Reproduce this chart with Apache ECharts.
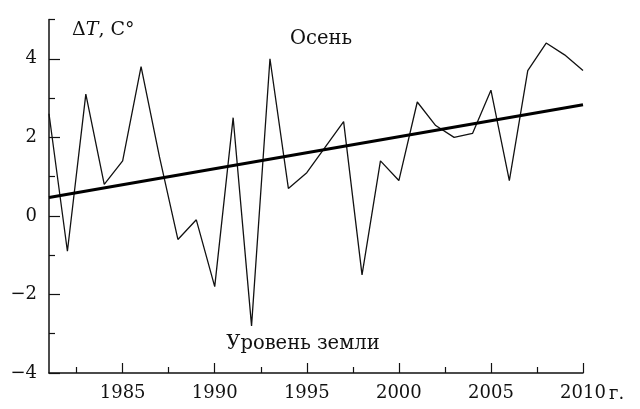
<!DOCTYPE html>
<html>
<head>
<meta charset="utf-8">
<script src="https://cdn.jsdelivr.net/npm/echarts@6/dist/echarts.min.js"></script>
<style>
  html, body { margin: 0; padding: 0; background: #fff; }
  #chart { width: 640px; height: 409px; }
</style>
</head>
<body>
<div id="chart"></div>
<script>
// Autumn surface temperature anomaly, 1981–2010
const years = [1981, 1982, 1983, 1984, 1985, 1986, 1987, 1988, 1989, 1990,
               1991, 1992, 1993, 1994, 1995, 1996, 1997, 1998, 1999, 2000,
               2001, 2002, 2003, 2004, 2005, 2006, 2007, 2008, 2009, 2010];
const deltaT = [2.6, -0.9, 3.1, 0.8, 1.4, 3.8, 1.5, -0.6, -0.1, -1.8,
                2.5, -2.8, 4.0, 0.7, 1.1, 1.75, 2.4, -1.5, 1.4, 0.9,
                2.9, 2.3, 2.0, 2.1, 3.2, 0.9, 3.7, 4.4, 4.1, 3.7];
// Linear trend, end points
const trendYears = [1981, 2010];
const trendValues = [0.47, 2.83];

const xMajorTicks = [1985, 1990, 1995, 2000, 2005, 2010];
const xMinorTicks = [1982.5, 1987.5, 1992.5, 1997.5, 2002.5, 2007.5];
const yMajorTicks = [-4, -2, 0, 2, 4];
const yMinorTicks = [-3, -1, 1, 3, 5];

const FONT = '"DejaVu Serif", "Liberation Serif", serif';
const INK = '#111';

const series = years.map((y, i) => [y, deltaT[i]]);
const trend = trendYears.map((y, i) => [y, trendValues[i]]);

const fmtNum = v => (v < 0 ? '\u2212' + Math.abs(v) : String(v));

const chart = echarts.init(document.getElementById('chart'), null, { renderer: 'canvas' });
chart.setOption({
  animation: false,
  backgroundColor: '#fff',
  grid: { left: 49, right: 57, top: 19.5, bottom: 36 },
  xAxis: [
    {
      type: 'value', min: 1981, max: 2010,
      splitLine: { show: false },
      axisLine: { show: true, onZero: false, lineStyle: { color: INK, width: 1.5 } },
      axisTick: { show: true, inside: true, length: 10, customValues: xMajorTicks,
                  lineStyle: { color: INK, width: 1.2 } },
      axisLabel: { show: true, customValues: xMajorTicks, margin: 11,
                   fontFamily: FONT, fontSize: 18, color: INK,
                   formatter: v => String(v) }
    },
    {
      type: 'value', min: 1981, max: 2010, position: 'bottom',
      splitLine: { show: false },
      axisLine: { show: false, onZero: false },
      axisTick: { show: true, inside: true, length: 6, customValues: xMinorTicks,
                  lineStyle: { color: INK, width: 1.2 } },
      axisLabel: { show: false }
    }
  ],
  yAxis: [
    {
      type: 'value', min: -4, max: 5,
      splitLine: { show: false },
      axisLine: { show: true, onZero: false, lineStyle: { color: INK, width: 1.5 } },
      axisTick: { show: true, inside: true, length: 11, customValues: yMajorTicks,
                  lineStyle: { color: INK, width: 1.2 } },
      axisLabel: { show: true, customValues: yMajorTicks, margin: 12,
                   fontFamily: FONT, fontSize: 18, color: INK, formatter: fmtNum }
    },
    {
      type: 'value', min: -4, max: 5, position: 'left',
      splitLine: { show: false },
      axisLine: { show: false, onZero: false },
      axisTick: { show: true, inside: true, length: 6, customValues: yMinorTicks,
                  lineStyle: { color: INK, width: 1.2 } },
      axisLabel: { show: false }
    }
  ],
  series: [
    {
      type: 'line', data: series, xAxisIndex: 0, yAxisIndex: 0,
      symbol: 'none', lineStyle: { color: INK, width: 1.3 }, z: 3
    },
    {
      type: 'line', data: trend, xAxisIndex: 0, yAxisIndex: 0,
      symbol: 'none', lineStyle: { color: '#000', width: 3 }, z: 4
    }
  ],
  graphic: [
    {
      type: 'text', left: 72, top: 21,
      style: {
        text: '{n|\u0394}{i|T}{n|, C\u00B0}',
        rich: {
          n: { fontFamily: FONT, fontSize: 19, fill: INK },
          i: { fontFamily: FONT, fontSize: 19, fontStyle: 'italic', fill: INK }
        }
      }
    },
    {
      type: 'text', x: 321, y: 39,
      style: { text: 'Осень', fontFamily: FONT, fontSize: 19.5, fill: INK,
               align: 'center', verticalAlign: 'middle' }
    },
    {
      type: 'text', x: 303, y: 344,
      style: { text: 'Уровень земли', fontFamily: FONT, fontSize: 19.5, fill: INK,
               align: 'center', verticalAlign: 'middle' }
    },
    {
      type: 'text', x: 609, y: 394,
      style: { text: 'г.', fontFamily: FONT, fontSize: 18, fill: INK,
               align: 'left', verticalAlign: 'middle' }
    }
  ]
});
</script>
</body>
</html>
